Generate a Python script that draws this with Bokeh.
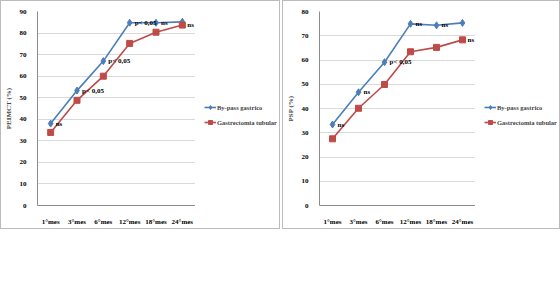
from bokeh.plotting import figure
from bokeh.layouts import row
from bokeh.models import Legend, LegendItem, ColumnDataSource, Range1d, FixedTicker
from bokeh.embed import file_html
from bokeh.resources import INLINE
from bokeh.core.properties import value

months = ["1°mes", "3°mes", "6°mes", "12°mes", "18°mes", "24°mes"]

peimct_bypass = [38.0, 53.3, 67.0, 84.8, 84.8, 85.2]
peimct_gastro = [33.9, 48.8, 60.0, 75.2, 80.4, 83.7]
peimct_notes = ["ns", "p< 0,05", "p< 0,05", "p< 0,05", "ns", "ns"]
peimct_note_on = ["b", "b", "b", "b", "b", "g"]

psp_bypass = [33.4, 46.7, 59.1, 74.9, 74.3, 75.3]
psp_gastro = [27.5, 40.1, 49.9, 63.4, 65.2, 68.3]
psp_notes = ["ns", "ns", "p< 0,05", "ns", "ns", "ns"]
psp_note_on = ["b", "b", "b", "b", "b", "g"]

peimct_ticks = [0, 10, 20, 30, 40, 50, 60, 70, 80, 90]
psp_ticks = [0, 10, 20, 30, 40, 50, 60, 70, 80]

series_names = ["By-pass gastrico", "Gastrectomia tubular"]

FONT = "Liberation Serif"
BLUE = "#4A7EBB"
RED = "#BE4B48"
H = 227


def add_series(p, bypass, gastro):
    l1 = p.line(months, bypass, line_color=BLUE, line_width=1.6)
    s1 = p.scatter(months, bypass, marker="diamond", size=7, fill_color=BLUE, line_color=BLUE)
    l2 = p.line(months, gastro, line_color=RED, line_width=1.6)
    s2 = p.scatter(months, gastro, marker="square", size=6, fill_color=RED, line_color=RED)
    return l1, s1, l2, s2


def make_panel(ytitle, ticks, bypass, gastro, notes, note_on, plot_w, leg_w, left):
    p = figure(x_range=months, y_range=Range1d(ticks[0], ticks[-1]),
               width=plot_w, height=H, output_backend="svg", toolbar_location=None,
               min_border_left=left, min_border_right=0,
               min_border_top=10, min_border_bottom=23)
    p.outline_line_color = None
    p.background_fill_color = "white"
    p.border_fill_color = "white"

    p.xgrid.grid_line_color = None
    p.ygrid.grid_line_color = "#d9d9d9"
    p.ygrid.grid_line_width = 1

    p.yaxis.ticker = FixedTicker(ticks=ticks)
    for ax in (p.xaxis[0], p.yaxis[0]):
        ax.axis_line_color = "#8c8c8c"
        ax.major_tick_line_color = None
        ax.minor_tick_line_color = None
        ax.major_label_text_font = FONT
        ax.major_label_text_font_style = "bold"
        ax.major_label_text_font_size = "7px"
        ax.major_label_text_color = "#000000"
    p.xaxis.major_label_standoff = 6
    p.yaxis.major_label_standoff = 5
    p.yaxis.axis_label = ytitle
    p.yaxis.axis_label_text_font = FONT
    p.yaxis.axis_label_text_font_style = "bold"
    p.yaxis.axis_label_text_font_size = "7px"
    p.yaxis.axis_label_standoff = 4

    add_series(p, bypass, gastro)

    anchor = [b if w == "b" else g for b, g, w in zip(bypass, gastro, note_on)]
    src = ColumnDataSource(dict(x=months, y=anchor, t=notes))
    p.text(x="x", y="y", text="t", source=src, x_offset=5, text_baseline="middle",
           text_align="left", text_font=value(FONT), text_font_style="bold",
           text_font_size="7px", text_color="#000000")

    # legend strip: same series, kept outside its visible range
    q = figure(x_range=months, y_range=Range1d(1000, 1001), width=leg_w, height=H,
               output_backend="svg", toolbar_location=None,
               min_border_left=0, min_border_right=0, min_border_top=0, min_border_bottom=0)
    q.axis.visible = False
    q.grid.visible = False
    q.outline_line_color = None
    q.background_fill_color = "white"
    q.border_fill_color = "white"
    l1, s1, l2, s2 = add_series(q, bypass, gastro)
    legend = Legend(items=[LegendItem(label=series_names[0], renderers=[l1, s1]),
                           LegendItem(label=series_names[1], renderers=[l2, s2])],
                    location=(9, 78), margin=0, padding=0,
                    border_line_color=None, background_fill_alpha=0,
                    glyph_width=12, glyph_height=10, label_height=10,
                    label_standoff=1, spacing=5,
                    label_text_font=FONT, label_text_font_style="bold",
                    label_text_font_size="6.5px")
    q.add_layout(legend, "center")
    return row(p, q, spacing=0, styles={"border": "1px solid #bcbcbc"})


panel1 = make_panel("PEIMCT (%)", peimct_ticks, peimct_bypass, peimct_gastro,
                    peimct_notes, peimct_note_on, 194, 84, 35)
panel2 = make_panel("PSP (%)", psp_ticks, psp_bypass, psp_gastro,
                    psp_notes, psp_note_on, 192, 84, 33)

layout = row(panel1, panel2, spacing=2)
open("out.html", "w").write(file_html(layout, INLINE))
